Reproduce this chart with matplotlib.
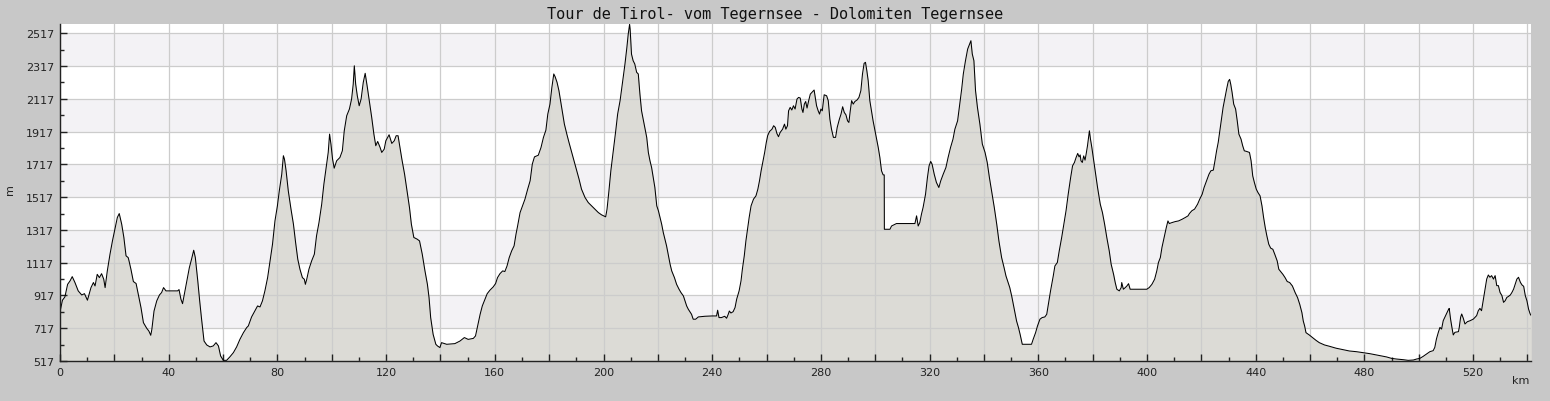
import numpy as np
import matplotlib
matplotlib.use('Agg')
import matplotlib.pyplot as plt
from matplotlib.ticker import MultipleLocator, FixedLocator, FuncFormatter

#——————————
# elevation profile in stretches of ~70 km

km_000 = [0, 0.9, 1.8, 2.8, 3.7, 4.5, 5.5, 6.7, 8.0, 9.0, 10.1, 11.4, 12.3, 12.9, 13.7,
          14.5, 15.3, 16.1, 16.6, 17.4, 18.4, 19.3, 20.2, 21.1, 21.8, 22.7, 23.5, 24.3, 25.1, 25.4,
          26.1, 27.0, 28.0, 28.8, 29.8, 30.7, 31.9, 32.7, 33.4, 33.8, 34.6, 35.6, 36.6, 37.4, 38.1,
          39.0, 41.1, 43.3, 43.8, 44.5, 45.1, 46.0, 46.8, 47.6, 48.4, 49.2, 49.8, 50.7, 51.4, 52.1,
          53.0, 54.0, 55.2, 56.4, 57.4, 58.3, 59.1, 60.1, 61.3, 62.5, 63.8, 65.0, 66.2, 67.5, 68.7]
elev_000 = [816, 888, 908, 985, 1006, 1032, 996, 945, 920, 928, 888, 965, 996, 975, 1046,
            1026, 1050, 1016, 965, 1066, 1169, 1250, 1321, 1393, 1417, 1352, 1271, 1159, 1148, 1128,
            1077, 1002, 990, 924, 843, 751, 717, 700, 674, 710, 822, 884, 920, 935, 965,
            945, 945, 945, 953, 894, 867, 945, 1016, 1087, 1138, 1193, 1148, 1006, 884, 772,
            639, 615, 603, 609, 629, 609, 548, 521, 521, 542, 568, 603, 649, 690, 721]

km_070 = [69.3, 70.5, 71.7, 72.7, 73.6, 74.5, 75.4, 76.4, 77.3, 78.2, 79.1, 80.0, 80.7, 81.6, 82.2,
          82.6, 83.2, 84.0, 85.0, 85.9, 86.7, 87.5, 88.3, 89.2, 89.9, 90.3, 90.8, 91.6, 92.6, 93.6,
          94.4, 95.3, 96.3, 97.1, 98.1, 98.7, 99.2, 99.7, 100.3, 100.9, 101.8, 103.0, 103.9, 104.6, 105.5,
          106.5, 107.3, 107.9, 108.3, 108.8, 109.4, 110.1, 110.8, 111.6, 112.3, 113.1, 113.8, 114.7, 115.5, 116.2,
          116.9, 117.8, 118.4, 119.3, 119.9, 121.1, 122.1, 123.0, 123.7, 124.4, 124.9, 125.8, 126.8, 127.7, 128.6,
          129.3, 130.2, 131.4, 132.3, 133.3, 134.3, 135.2, 135.8, 136.4, 137.3, 138.3, 138.9]
elev_070 = [731, 786, 822, 853, 847, 884, 945, 1026, 1128, 1230, 1372, 1464, 1556, 1657, 1770,
            1749, 1678, 1556, 1444, 1352, 1240, 1138, 1077, 1026, 1016, 985, 1016, 1077, 1128, 1169,
            1281, 1362, 1474, 1596, 1719, 1790, 1902, 1841, 1749, 1694, 1739, 1759, 1800, 1922, 2014,
            2055, 2116, 2207, 2319, 2207, 2136, 2075, 2116, 2218, 2273, 2187, 2106, 2004, 1902, 1831,
            1857, 1820, 1790, 1810, 1861, 1898, 1845, 1861, 1892, 1892, 1841, 1749, 1657, 1556, 1454,
            1352, 1271, 1261, 1250, 1169, 1067, 985, 904, 782, 680, 619, 609]

km_140 = [139.8, 140.4, 142.3, 145.3, 147.2, 148.8, 150.2, 152.1, 152.9, 153.7,
          154.6, 155.4, 156.4, 157.2, 158.2, 159.4, 160.3, 161.0, 161.9, 162.9,
          163.7, 164.5, 165.3, 166.2, 167.1, 167.8, 168.4, 169.3, 170.2, 171.1,
          172.1, 173.0, 173.8, 174.6, 176.0, 177.0, 177.9, 178.8, 179.5, 180.3,
          181.0, 181.7, 182.2, 182.9, 183.6, 184.6, 185.6, 186.5, 187.3, 188.3,
          189.3, 190.1, 191.0, 191.9, 193.2, 194.4, 195.6, 196.8, 198.1, 199.3,
          200.8, 201.3, 202.0, 202.7, 203.6, 204.5, 205.2, 206.1, 206.9, 207.9, 208.6, 209.1]
elev_140 = [599, 629, 619, 623, 639, 660, 649, 655, 670, 731,
            802, 853, 894, 928, 949, 969, 990, 1026, 1050, 1067,
            1063, 1097, 1148, 1189, 1220, 1291, 1342, 1423, 1464, 1505,
            1566, 1617, 1719, 1763, 1773, 1820, 1882, 1926, 2024, 2085,
            2187, 2269, 2252, 2218, 2167, 2065, 1963, 1902, 1851, 1790,
            1729, 1678, 1627, 1566, 1515, 1484, 1464, 1444, 1423, 1409,
            1397, 1444, 1556, 1678, 1800, 1922, 2024, 2106, 2207, 2330, 2431, 2513]

km_210 = [209.6, 209.8, 210.3, 210.9, 211.5, 212.2, 212.8, 213.4, 214.0, 214.6,
          215.2, 215.9, 216.5, 217.1, 217.7, 218.3, 218.9, 219.6, 220.2, 220.8,
          221.4, 222.0, 222.6, 223.2, 223.9, 224.5, 225.1, 226.1, 226.9, 227.8,
          228.5, 229.4, 230.0, 230.6, 231.2, 231.8, 232.4, 233.0, 233.9, 234.9,
          237.3, 240.0, 241.6, 242.0, 242.5, 243.4, 244.6, 245.3, 245.9, 246.3,
          246.9, 247.7, 248.4, 249.0, 249.9, 250.6, 251.1, 251.8, 252.4, 253.1,
          253.6, 254.3, 255.2, 256.1, 256.8, 257.4, 258.0, 258.7, 259.3, 259.9,
          260.4, 261.1, 262.0, 262.6, 263.2, 263.8, 264.4, 265.0, 265.9, 266.6,
          267.1, 267.7, 268.1, 268.7, 269.3, 269.9, 270.5, 271.2, 271.8, 272.4,
          273.0, 273.4, 273.9, 274.4, 274.9, 275.5, 276.1, 276.7, 277.5]
elev_210 = [2572, 2543, 2390, 2350, 2330, 2279, 2269, 2146, 2044, 1993,
            1943, 1882, 1790, 1739, 1698, 1637, 1576, 1464, 1434, 1393,
            1352, 1301, 1261, 1220, 1159, 1108, 1067, 1026, 985, 955,
            935, 914, 884, 853, 833, 818, 802, 772, 772, 786,
            790, 792, 792, 827, 782, 782, 790, 778, 802, 822,
            810, 818, 843, 894, 945, 1006, 1077, 1159, 1250, 1332,
            1393, 1464, 1505, 1525, 1566, 1617, 1678, 1739, 1790, 1851,
            1892, 1918, 1932, 1953, 1943, 1906, 1886, 1912, 1932, 1963,
            1932, 1953, 2044, 2065, 2049, 2075, 2055, 2116, 2126, 2122,
            2055, 2034, 2085, 2101, 2061, 2106, 2146, 2157, 2171]

km_280 = [278.4, 279.0, 279.5, 280.0, 280.5, 280.8, 281.2, 282.1, 282.7, 283.3,
          283.9, 284.6, 285.4, 286.0, 286.8, 287.4, 288.0, 288.6, 289.2, 289.8,
          290.3, 290.8, 291.3, 291.9, 292.5, 293.3, 294.0, 294.7, 295.3, 295.9,
          296.4, 296.9, 297.4, 298.0, 298.6, 299.2, 299.9, 300.5, 301.1, 301.7,
          302.3, 302.9, 303.3, 303.35, 305.4, 306.0, 307.8, 311.5, 314.6, 315.2,
          315.8, 316.4, 317.0, 317.6, 318.5, 319.2, 319.8, 320.4, 320.9, 321.7,
          322.5, 323.4, 324.1, 325.0, 326.0, 326.8, 327.7, 328.6, 329.3, 330.3,
          331.1, 331.8, 332.4, 333.2, 334.0, 334.8, 335.2, 335.7, 336.3, 336.9,
          337.6, 338.5, 339.4, 340.4, 341.2, 342.0, 342.8, 343.8, 344.7, 345.5,
          346.5, 347.4, 348.1]
elev_280 = [2075, 2044, 2024, 2055, 2044, 2085, 2142, 2136, 2106, 1993,
            1932, 1882, 1882, 1943, 1993, 2024, 2069, 2034, 2020, 1983,
            1973, 2044, 2106, 2085, 2101, 2110, 2126, 2167, 2269, 2334,
            2340, 2289, 2228, 2106, 2044, 1983, 1922, 1871, 1820, 1759,
            1678, 1653, 1653, 1321, 1321, 1341, 1356, 1356, 1356, 1403,
            1341, 1362, 1413, 1454, 1535, 1637, 1708, 1735, 1719, 1657,
            1607, 1576, 1617, 1657, 1698, 1759, 1820, 1871, 1932, 1983,
            2085, 2177, 2269, 2350, 2421, 2456, 2472, 2391, 2350, 2167,
            2065, 1963, 1841, 1790, 1729, 1637, 1556, 1454, 1352, 1250,
            1148, 1087, 1036]

km_350 = [348.7, 349.5, 350.2, 350.8, 351.4, 352.0, 352.7, 353.3, 354.1, 355.7,
          357.5, 358.1, 359.0, 359.7, 360.6, 361.4, 362.4, 363.1, 363.7, 364.5,
          365.5, 366.1, 367.0, 367.7, 368.6, 369.4, 370.2, 371.0, 371.9, 372.6,
          373.3, 373.9, 374.5, 375.0, 375.4, 375.7, 376.2, 376.7, 377.2, 377.6,
          378.1, 378.5, 378.8, 379.2, 379.7, 380.3, 380.9, 381.8, 382.8, 383.6,
          384.4, 385.2, 386.1, 386.8, 387.7, 388.3, 388.9, 389.8, 390.5, 390.7,
          391.3, 392.0, 392.6, 393.2, 393.8, 396.9, 399.9, 400.8, 401.8, 402.8,
          403.6, 404.2, 404.9, 405.5, 406.3, 407.1, 407.7, 408.2, 409.2, 410.4,
          411.6, 412.9, 414.1, 415.1, 415.6, 416.5, 417.5]
elev_350 = [1006, 965, 914, 863, 812, 761, 721, 680, 619, 619,
            619, 649, 690, 731, 772, 782, 786, 802, 863, 945,
            1036, 1097, 1118, 1189, 1271, 1352, 1434, 1535, 1637, 1708,
            1729, 1759, 1784, 1763, 1775, 1739, 1729, 1769, 1743, 1780,
            1831, 1882, 1922, 1871, 1820, 1749, 1678, 1576, 1474, 1423,
            1352, 1271, 1189, 1108, 1046, 996, 955, 945, 965, 996,
            955, 965, 975, 989, 955, 955, 955, 965, 985, 1016,
            1067, 1118, 1148, 1210, 1271, 1332, 1372, 1356, 1362, 1368,
            1372, 1382, 1393, 1403, 1417, 1434, 1444]

km_420 = [418.6, 419.4, 420.3, 421.0, 421.9, 422.8, 423.5, 424.4, 425.0, 425.6,
          426.2, 426.8, 427.4, 428.0, 428.7, 429.3, 429.9, 430.4, 430.8, 431.3,
          431.9, 432.6, 433.2, 433.8, 434.6, 435.2, 435.8, 436.7, 437.7, 438.3,
          438.9, 439.5, 440.2, 440.8, 441.6, 442.3, 442.9, 443.5, 444.1, 444.8,
          445.5, 446.3, 447.0, 447.9, 448.5, 449.2, 450.0, 450.8, 451.6, 452.5,
          453.5, 454.5, 455.4, 456.2, 457.0, 457.5, 458.0, 458.5, 459.7, 460.9,
          462.2, 463.4, 465.3, 467.1, 469.6, 472.1, 474.5, 477.0, 479.4, 481.9,
          485.0, 488.1]
elev_420 = [1474, 1505, 1535, 1576, 1617, 1657, 1678, 1682, 1739, 1800,
            1851, 1922, 1993, 2065, 2126, 2177, 2224, 2236, 2207, 2157,
            2085, 2055, 1983, 1902, 1871, 1831, 1800, 1796, 1790, 1739,
            1647, 1607, 1566, 1546, 1525, 1464, 1393, 1332, 1281, 1230,
            1206, 1199, 1169, 1128, 1077, 1063, 1046, 1026, 1002, 996,
            975, 935, 904, 863, 812, 761, 731, 690, 676, 660,
            643, 629, 615, 607, 595, 586, 578, 574, 568, 562,
            552, 542]

km_490 = [490.0, 491.8, 494.3, 496.1, 498.0, 499.2, 500.4, 501.6, 502.9, 504.1,
          505.3, 505.9, 506.5, 507.2, 507.8, 508.4, 509.0, 509.6, 510.2, 510.9,
          511.2, 511.7, 512.2, 512.7, 513.3, 514.6, 514.9, 515.4, 515.8, 516.4,
          517.0, 517.9, 518.9, 520.1, 521.3, 521.9, 522.5, 523.1, 523.7, 524.4,
          525.0, 525.6, 526.2, 526.8, 527.5, 528.1, 528.7, 529.3, 529.9, 530.6,
          531.2, 531.8, 532.4, 533.0, 533.7, 534.3, 534.9, 535.5, 536.1, 536.7,
          537.4, 538.0, 538.6, 539.2, 539.8, 540.4, 541.0, 541.4]
elev_490 = [533, 529, 525, 521, 523, 529, 533, 545, 560, 574,
            580, 600, 651, 692, 722, 712, 763, 784, 804, 830,
            838, 773, 722, 676, 692, 696, 722, 784, 804, 777,
            743, 757, 763, 773, 794, 824, 838, 824, 885, 956,
            1017, 1042, 1028, 1038, 1017, 1038, 977, 977, 936, 916,
            875, 885, 905, 911, 920, 936, 956, 987, 1017, 1028,
            997, 981, 973, 916, 885, 834, 804, 794]

title = 'Tour de Tirol- vom Tegernsee - Dolomiten Tegernsee'
y_base = 517
y_top = 2574
x_end = 541.3

#——————————

dist = np.concatenate([km_000, km_070, km_140, km_210, km_280, km_350, km_420, km_490])
elev = np.concatenate([elev_000, elev_070, elev_140, elev_210, elev_280, elev_350, elev_420, elev_490])

fig = plt.figure(figsize=(15.5, 4.02), dpi=100, facecolor='#c8c8c8')
ax = fig.add_axes([60/1550, 40/402, 1471/1550, 337/402])
ax.set_facecolor('white')

# alternating bands every 200 m
for lo in range(y_base + 200, 2600, 400):
    ax.axhspan(lo, lo + 200, color='#f3f2f5', lw=0, zorder=0)

ax.fill_between(dist, elev, y_base, color='#dcdbd6', lw=0, zorder=2)
ax.plot(dist, elev, color='black', lw=0.75, zorder=3)

ax.set_xlim(0, x_end)
ax.set_ylim(y_base, y_top)

ax.xaxis.set_major_locator(MultipleLocator(20))
ax.xaxis.set_minor_locator(MultipleLocator(10))
ax.xaxis.set_major_formatter(FuncFormatter(lambda v, p: '%d' % v if int(round(v)) % 40 == 0 else ''))
ax.yaxis.set_major_locator(FixedLocator(np.arange(y_base, 2600, 200)))
ax.yaxis.set_minor_locator(FixedLocator(np.arange(y_base + 100, 2600, 200)))
ax.yaxis.set_major_formatter(FuncFormatter(lambda v, p: '%d' % v))

ax.grid(True, which='major', color='#cccccc', lw=0.9, zorder=1)
ax.set_axisbelow(False)
for gl in ax.get_xgridlines() + ax.get_ygridlines():
    gl.set_zorder(1)

ax.tick_params(which='both', direction='in', color='#222222', labelsize=8, labelcolor='#222222')
ax.tick_params(which='major', length=5, width=1, pad=4)
ax.tick_params(which='minor', length=3, width=1)

for s in ['top', 'right']:
    ax.spines[s].set_visible(False)
for s in ['left', 'bottom']:
    ax.spines[s].set_color('#222222')
    ax.spines[s].set_linewidth(1.0)
    ax.spines[s].set_zorder(4)

fig.text(0.5, 1 - 14/402, title, ha='center', va='center', fontsize=11,
         family='DejaVu Sans Mono', fontweight='normal', color='#111111')
fig.text(10/1550, 1 - 190/402, 'm', ha='center', va='center', rotation=90, fontsize=8, color='#222222')
fig.text(1521/1550, 1 - 381/402, 'km', ha='center', va='center', fontsize=8, color='#222222')

fig.savefig('out.png', dpi=100, facecolor=fig.get_facecolor())
